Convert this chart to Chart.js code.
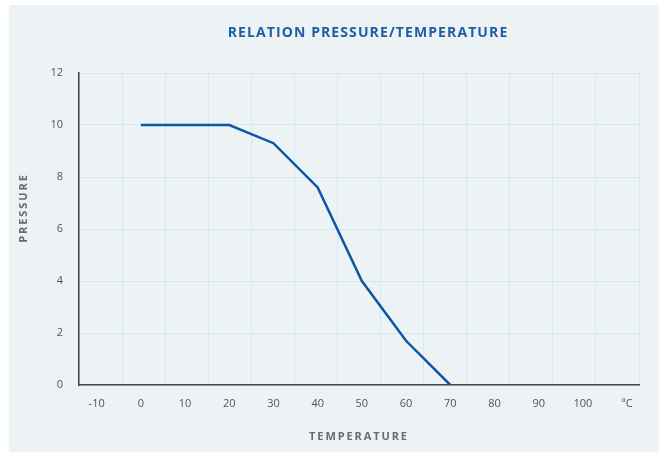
<!DOCTYPE html>
<html>
<head>
<meta charset="utf-8">
<script src="https://cdn.jsdelivr.net/npm/chart.js@4.4.1/dist/chart.umd.min.js"></script>
<style>
  html, body { margin: 0; padding: 0; background: #fff; overflow: hidden; }
  #panel { position: absolute; left: 9px; top: 5px; width: 650px; height: 447px; background: #edf2f5; }
</style>
</head>
<body>
<div id="panel"><canvas id="chart"></canvas></div>
<script>
// Relation pressure / temperature

const CHART_TITLE = "RELATION PRESSURE/TEMPERATURE";
const X_TITLE = "TEMPERATURE";
const Y_TITLE = "PRESSURE";

const temperatures = [0, 20, 30, 40, 50, 60, 70];
const pressures = [10, 10, 9.3, 7.6, 4.0, 1.7, 0];

const xTickValues = [-10, 0, 10, 20, 30, 40, 50, 60, 70, 80, 90, 100, 110];
const xTickLabels = ["-10", "0", "10", "20", "30", "40", "50", "60", "70", "80", "90", "100", "ºC"];
const yTickValues = [0, 2, 4, 6, 8, 10, 12];

const GRID = "#d3e7f7";
const AXIS = "#444";
const TICK_FONT = { family: "'Open Sans'", size: 11 };

// vertical grid is drawn on its own, 13 equal columns
const gridColumns = Array.from({ length: 14 }, (_, i) => i);

const titlesPlugin = {
    id: "titles",
    afterDraw(chart) {
        const ctx = chart.ctx;
        ctx.save();
        ctx.textAlign = "center";
        ctx.textBaseline = "middle";
        ctx.font = "bold 14px 'Open Sans'";
        ctx.fillStyle = "#1d5ea5";
        ctx.letterSpacing = "1.1px";
        ctx.fillText(CHART_TITLE, 359, 28);

        ctx.font = "bold 11px 'Open Sans'";
        ctx.fillStyle = "#6a6a6a";
        ctx.letterSpacing = "1.9px";
        ctx.fillText(X_TITLE, 350, 432);
        ctx.translate(15, 203);
        ctx.rotate(-Math.PI / 2);
        ctx.fillText(Y_TITLE, 0, 0);
        ctx.restore();
    }
};

new Chart(document.getElementById("chart"), {
    type: "line",
    data: {
        datasets: [{
            data: temperatures.map((t, i) => ({ x: t, y: pressures[i] })),
            borderColor: "#0b57a3",
            borderWidth: 2.5,
            pointRadius: 0,
            fill: false,
            tension: 0
        }]
    },
    options: {
        responsive: true,
        maintainAspectRatio: false,
        animation: false,
        layout: { padding: { left: 0, right: 20, top: 68, bottom: 0 } },
        plugins: {
            legend: { display: false },
            tooltip: { enabled: false },
            title: { display: false }
        },
        scales: {
            x: {
                type: "linear",
                position: "bottom",
                min: -14,
                max: 112.7,
                afterBuildTicks: s => { s.ticks = xTickValues.map(v => ({ value: v })); },
                afterFit: s => { s.height = 67; },
                ticks: {
                    padding: 12,
                    color: "#555",
                    font: TICK_FONT,
                    autoSkip: false,
                    maxRotation: 0,
                    callback: v => xTickLabels[xTickValues.indexOf(v)]
                },
                grid: { display: false, drawTicks: false },
                border: { display: true, color: AXIS, width: 1.5 }
            },
            x2: {
                type: "linear",
                position: "top",
                min: 0,
                max: 13,
                afterBuildTicks: s => { s.ticks = gridColumns.map(v => ({ value: v })); },
                afterFit: s => { s.height = 0; },
                ticks: { display: false },
                grid: { color: GRID, drawTicks: false },
                border: { display: false }
            },
            y: {
                min: 0,
                max: 12,
                afterBuildTicks: s => { s.ticks = yTickValues.map(v => ({ value: v })); },
                afterFit: s => { s.width = 70; },
                ticks: { padding: 16, color: "#555", font: TICK_FONT },
                grid: { color: GRID, drawTicks: false },
                border: { color: AXIS, width: 1.5 }
            }
        }
    },
    plugins: [titlesPlugin]
});
</script>
</body>
</html>
